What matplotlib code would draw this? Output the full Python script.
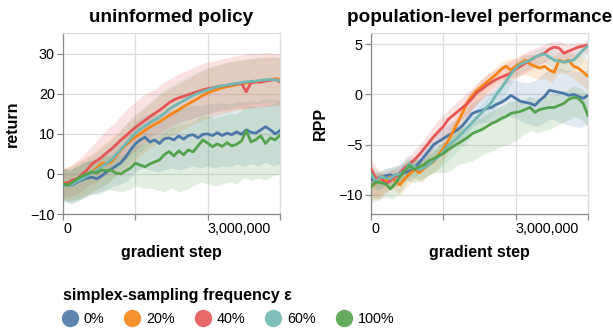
import matplotlib
matplotlib.use("Agg")
import matplotlib.pyplot as plt
from matplotlib.lines import Line2D
import numpy as np

plt.rcParams['font.family'] = ['Liberation Sans', 'DejaVu Sans']

# ---------------- data ----------------
steps = [i * 100000 for i in range(46)]            # mean curves every 100k steps
band_steps = [i * 150000 for i in range(31)]       # band bounds every 150k steps

series = ["0%", "20%", "40%", "60%", "100%"]
colors = ["#4c78a8", "#f58518", "#e45756", "#72b7b2", "#54a24b"]

# ---- uninformed policy: return ----
ret_0 = [-2.5, -2.8, -2.7, -2.0, -1.5, -1.0, -0.8, -1.2, -0.5, 0.5, 1.2, 2.0, 2.8, 4.2, 6.0, 7.5,
         8.5, 9.2, 8.0, 8.5, 7.6, 8.8, 9.0, 8.5, 9.5, 8.7, 9.6, 9.8, 9.0, 9.9, 10.0, 9.6, 10.3, 9.6,
         10.2, 9.8, 10.5, 9.9, 11.0, 10.4, 10.2, 11.0, 11.8, 11.0, 10.0, 10.8]
ret_20 = [-2.6, -2.5, -2.0, -1.5, -1.0, -0.3, 0.5, 1.5, 2.7, 2.5, 3.0, 4.5, 6.0, 7.2, 8.2, 9.2,
          10.0, 10.9, 11.7, 12.4, 13.0, 13.8, 14.6, 15.3, 16.0, 16.8, 17.5, 18.2, 18.9, 19.6, 20.2,
          20.7, 21.1, 21.5, 21.8, 22.0, 22.3, 22.5, 22.7, 22.9, 23.0, 23.2, 23.3, 23.5, 23.8, 23.6]
ret_40 = [-2.3, -2.2, -1.5, -1.2, 0.0, 1.0, 2.5, 3.3, 4.2, 5.2, 6.2, 7.3, 8.5, 9.5, 10.6, 11.6,
          12.5, 13.4, 14.3, 15.1, 15.9, 16.8, 17.8, 18.5, 19.0, 19.4, 19.8, 20.2, 20.6, 21.0, 21.3,
          21.5, 21.8, 22.0, 22.1, 22.3, 22.5, 22.6, 20.5, 22.8, 23.0, 22.9, 23.2, 23.4, 23.6, 23.0]
ret_60 = [-2.8, -2.9, -2.5, -1.8, -1.2, -0.5, 0.3, 1.0, 1.8, 2.6, 3.5, 4.8, 6.2, 7.5, 8.8, 10.2,
          11.2, 12.0, 12.8, 13.5, 14.2, 15.1, 16.2, 16.9, 17.6, 18.3, 19.0, 19.6, 20.2, 20.6, 21.0,
          21.4, 21.8, 22.0, 22.2, 22.4, 22.6, 22.8, 23.0, 23.1, 23.2, 23.4, 23.5, 23.6, 23.5, 23.3]
ret_100 = [-2.5, -2.8, -2.0, -1.2, -0.5, 0.0, 0.5, 0.3, 1.0, 0.8, 1.0, 0.2, 0.0, 0.8, 1.5, 2.7,
           2.2, 1.8, 2.5, 3.0, 3.5, 4.8, 5.6, 4.5, 5.8, 4.8, 6.0, 5.5, 7.0, 8.5, 7.7, 6.8, 7.5, 6.9,
           7.8, 7.0, 7.4, 8.2, 10.8, 8.0, 8.6, 9.5, 7.6, 9.0, 8.5, 9.7]

ret_lo_0 = [-6.5, -7, -6.5, -6, -5, -5, -4, -3, -2.5, -1.5, 0.5, 1.5, 1.0, 0.5, 1.0, 1.5, 1.0, 1.5,
            2.0, 1.5, 2.0, 1.5, 2.0, 1.8, 2.5, 2.0, 2.5, 2.0, 3.0, 2.0, 2.5]
ret_hi_0 = [1.5, 1.0, 2.0, 3.0, 3.5, 4.0, 5.5, 7.0, 8.5, 10.5, 13.0, 14.5, 15.0, 15.0, 15.5, 16.0,
            16.5, 16.8, 17.2, 17.0, 17.5, 17.5, 17.8, 17.5, 18.0, 18.0, 18.3, 18.0, 18.8, 18.5, 18.5]
ret_lo_20 = [-6.5, -6.5, -6, -5.5, -4.5, -3.5, -2.5, -1, 0.5, 2, 3.5, 5, 6.5, 7.5, 8.5, 9.5, 10.5,
             11.5, 12.5, 13.2, 14, 14.5, 15, 15.5, 16, 16.3, 16.5, 16.8, 17, 17.2, 17.5]
ret_hi_20 = [1.5, 2.0, 3.0, 4.0, 5.0, 6.5, 8.0, 9.5, 11.0, 13.0, 14.5, 16.0, 17.5, 19.0, 20.5, 21.5,
             22.5, 23.5, 24.5, 25.5, 26.3, 27.0, 27.5, 28.0, 28.3, 28.6, 28.8, 29.0, 29.2, 29.3, 29.0]
ret_lo_40 = [-6, -5.5, -5, -3.5, -2.5, -1.5, 0, 1.5, 3, 4.5, 6, 7.5, 9, 10, 11, 12, 13, 13.5, 14,
             14.5, 15, 15.5, 15.8, 16, 16.2, 16.3, 16.5, 16.5, 16.8, 17, 17]
ret_hi_40 = [1.0, 2.0, 3.5, 5.0, 7.0, 9.0, 11.0, 12.5, 14.5, 16.5, 18.0, 19.5, 20.5, 21.5, 23.0,
             24.0, 25.0, 25.8, 26.5, 27.3, 28.0, 28.3, 28.8, 29.2, 29.5, 29.8, 30.2, 30.0, 30.4,
             30.1, 30.0]
ret_lo_60 = [-7, -7.2, -6.5, -5.5, -4.5, -3.5, -2.5, -1, 1, 3, 4.5, 6, 7.5, 8.5, 10, 11, 12, 13,
             13.8, 14.5, 15.2, 15.8, 16.2, 16.6, 17, 17.3, 17.5, 17.6, 17.8, 18, 18]
ret_hi_60 = [1.0, 1.5, 2.5, 3.5, 4.8, 6.0, 7.5, 9.0, 11.0, 13.0, 15.0, 16.5, 18.0, 19.5, 21.0, 22.0,
             23.0, 24.0, 25.0, 25.8, 26.5, 27.0, 27.5, 28.0, 28.3, 28.5, 28.8, 29.0, 29.0, 29.2, 29.0]
ret_lo_100 = [-6.5, -7.5, -7, -5.5, -5, -4.5, -4, -4, -4.5, -4, -3, -3.5, -3.5, -4, -4.5, -3.5,
              -4.5, -4, -3, -2, -2.5, -3, -2.5, -2, -2.5, -1, -1.5, -1, -1.5, -0.5, 0]
ret_hi_100 = [1.5, 1.0, 2.0, 3.0, 3.5, 4.0, 4.5, 4.5, 4.5, 5.5, 7.0, 7.5, 8.0, 9.0, 10.5, 11.5,
              12.0, 12.5, 13.0, 14.5, 14.5, 14.0, 14.5, 15.0, 15.0, 16.5, 17.0, 16.5, 17.0, 17.5, 18.0]

# ---- population-level performance: RPP ----
rpp_0 = [-8.4, -8.6, -8.3, -8.1, -8.0, -8.2, -7.9, -7.8, -7.6, -7.3, -6.8, -6.2, -5.6, -5.0, -4.7,
         -4.4, -4.1, -3.8, -3.5, -3.1, -2.5, -1.9, -1.7, -1.6, -1.4, -1.3, -1.0, -0.8, -0.5, -0.1,
         -0.4, -0.7, -0.8, -0.9, -1.1, -0.6, -0.2, 0.4, 0.3, 0.2, 0.1, -0.1, 0.0, -0.2, -0.4, -0.1]
rpp_20 = [-9.2, -8.8, -8.4, -8.6, -8.2, -8.6, -9.0, -8.4, -7.9, -7.5, -7.8, -7.4, -7.0, -6.7, -6.0,
          -5.4, -4.6, -3.7, -2.8, -1.8, -0.8, -0.1, 0.4, 0.8, 1.2, 1.6, 2.0, 2.5, 2.8, 2.4, 2.8,
          3.1, 3.4, 3.0, 2.8, 2.6, 2.8, 2.4, 2.2, 3.4, 3.2, 3.4, 2.8, 2.6, 2.2, 1.8]
rpp_40 = [-7.4, -8.4, -8.2, -8.9, -8.6, -8.2, -7.8, -7.3, -6.9, -6.5, -6.0, -5.4, -4.8, -4.2, -3.7,
          -3.2, -2.5, -2.1, -1.7, -1.3, -0.9, -0.4, 0.2, 0.5, 0.9, 1.2, 1.5, 1.7, 1.9, 2.1, 2.5,
          2.8, 3.1, 3.4, 3.7, 3.9, 4.1, 4.5, 4.7, 4.6, 4.1, 4.3, 4.5, 4.7, 4.8, 4.9]
rpp_60 = [-7.9, -8.7, -8.2, -8.3, -8.4, -8.0, -7.9, -7.6, -6.9, -7.2, -7.5, -7.3, -7.0, -6.6, -6.2,
          -5.7, -5.1, -4.7, -4.3, -3.8, -3.3, -2.8, -2.3, -1.8, -1.3, -0.8, 0.0, 0.6, 1.3, 2.0,
          2.6, 3.0, 3.2, 3.4, 3.7, 3.9, 4.0, 3.7, 3.4, 3.3, 3.2, 3.3, 3.4, 3.9, 4.4, 4.8]
rpp_100 = [-9.2, -8.7, -8.8, -8.9, -9.4, -8.9, -8.2, -7.6, -7.1, -7.5, -7.2, -7.0, -6.6, -6.4,
           -6.1, -5.9, -5.5, -5.2, -4.9, -4.6, -4.3, -3.9, -3.7, -3.5, -3.2, -2.9, -2.7, -2.4,
           -2.2, -1.9, -1.8, -1.7, -1.5, -1.3, -1.8, -1.5, -1.4, -1.3, -1.3, -1.1, -0.9, -0.5,
           -0.3, -0.4, -0.9, -2.1]

rpp_lo_0 = [-9.3, -9.5, -9.0, -8.8, -8.8, -8.6, -8.2, -7.6, -6.6, -6.0, -5.4, -5.2, -4.6, -4.2,
            -3.2, -2.9, -2.8, -2.8, -2.6, -2.2, -2.4, -2.8, -3.0, -3.2, -2.8, -2.4, -2.8, -3.0,
            -3.2, -3.3, -3.0]
rpp_hi_0 = [-7.5, -7.8, -7.4, -7.2, -7.0, -6.8, -6.4, -5.6, -4.6, -4.0, -3.4, -2.8, -2.4, -1.6,
            -0.8, -0.4, 0.0, 0.4, 0.8, 1.4, 1.4, 1.2, 1.2, 1.5, 2.2, 2.6, 2.6, 2.4, 2.4, 2.2, 2.5]
rpp_lo_20 = [-10.5, -10.3, -9.6, -9.4, -10.0, -9.2, -8.4, -8.8, -8.0, -7.6, -6.6, -5.6, -4.2, -2.8,
             -1.4, -0.6, 0.2, 0.8, 1.4, 1.6, 1.8, 2.0, 1.8, 1.5, 1.6, 1.2, 2.2, 2.0, 1.6, 1.0, 0.5]
rpp_hi_20 = [-8.0, -7.8, -7.6, -7.4, -7.8, -7.0, -6.6, -6.8, -6.0, -5.4, -4.3, -3.2, -1.8, -0.5,
             0.5, 1.3, 2.0, 2.5, 3.2, 3.5, 3.6, 4.0, 4.0, 3.8, 3.8, 3.6, 4.2, 4.2, 4.0, 3.8, 3.5]
rpp_lo_40 = [-10.0, -10.5, -9.8, -9.3, -9.0, -8.3, -7.6, -7.0, -6.0, -5.0, -4.3, -3.5, -2.8, -2.2,
             -1.5, -0.7, -0.1, 0.4, 0.8, 1.2, 1.6, 2.0, 2.4, 2.8, 3.2, 3.6, 3.6, 3.0, 3.4, 3.8, 4.2]
rpp_hi_40 = [-6.5, -7.5, -8.0, -7.5, -7.0, -6.3, -5.5, -4.8, -3.8, -2.8, -2.0, -1.3, -0.7, 0.0,
             0.6, 1.3, 1.9, 2.4, 2.8, 3.2, 3.6, 4.0, 4.4, 4.7, 5.0, 5.2, 5.3, 5.0, 5.0, 5.2, 5.3]
rpp_lo_60 = [-8.8, -9.6, -9.2, -9.0, -8.8, -8.0, -8.2, -8.6, -8.0, -7.6, -7.0, -6.4, -5.6, -5.0,
             -4.0, -3.5, -2.6, -1.8, -0.6, 0.6, 1.6, 2.2, 2.6, 3.0, 3.2, 2.6, 2.4, 2.2, 2.4, 3.0, 4.0]
rpp_hi_60 = [-7.0, -7.6, -7.4, -7.2, -7.0, -6.0, -6.2, -6.6, -6.0, -5.4, -4.8, -4.0, -3.4, -2.6,
             -1.9, -1.2, -0.4, 0.4, 1.4, 2.4, 3.2, 3.8, 4.1, 4.5, 4.7, 4.5, 4.2, 4.1, 4.2, 4.8, 5.4]
rpp_lo_100 = [-10.8, -10.5, -10.2, -10.4, -9.8, -8.6, -8.8, -8.4, -8.0, -7.8, -7.8, -7.6, -7.0,
              -6.8, -6.6, -6.2, -5.8, -5.6, -5.2, -5.0, -4.6, -4.0, -3.6, -3.8, -3.6, -3.4, -3.0,
              -2.6, -2.2, -2.4, -3.2]
rpp_hi_100 = [-8.0, -7.8, -8.0, -8.2, -7.4, -6.4, -6.6, -6.2, -5.6, -5.2, -4.8, -4.2, -3.6, -3.2,
              -2.8, -2.4, -2.0, -1.6, -1.2, -0.8, -0.6, -0.5, -0.2, -0.4, -0.2, 0.0, 0.2, 0.4,
              0.8, 0.6, 0.0]

x_ticks = [0, 1500000, 3000000, 4500000]
x_tick_labels = ["0", "", "3,000,000", ""]
ret_ticks = [-10, 0, 10, 20, 30]
rpp_ticks = [-10, -5, 0, 5]

panels = [
    dict(title="uninformed policy", ylabel="return", ylim=(-10, 35.2), yticks=ret_ticks,
         means=[ret_0, ret_20, ret_40, ret_60, ret_100],
         los=[ret_lo_0, ret_lo_20, ret_lo_40, ret_lo_60, ret_lo_100],
         his=[ret_hi_0, ret_hi_20, ret_hi_40, ret_hi_60, ret_hi_100]),
    dict(title="population-level performance", ylabel="RPP", ylim=(-11.9, 6.1), yticks=rpp_ticks,
         means=[rpp_0, rpp_20, rpp_40, rpp_60, rpp_100],
         los=[rpp_lo_0, rpp_lo_20, rpp_lo_40, rpp_lo_60, rpp_lo_100],
         his=[rpp_hi_0, rpp_hi_20, rpp_hi_40, rpp_hi_60, rpp_hi_100]),
]

# ---------------- figure ----------------
W, H = 613, 329
fig = plt.figure(figsize=(W / 100, H / 100), dpi=100)
lefts = [63, 371]
AX_W, AX_TOP, AX_BOT = 217, 33, 214

GRID = "#dddddd"
DOMAIN = "#888888"
TXT = "#000000"

for left, p in zip(lefts, panels):
    ax = fig.add_axes([left / W, (H - AX_BOT) / H, AX_W / W, (AX_BOT - AX_TOP) / H])
    for c, lo, hi in zip(colors, p["los"], p["his"]):
        ax.fill_between(band_steps, lo, hi, color=c, alpha=0.17, lw=0, zorder=2)
    for c, m in zip(colors, p["means"]):
        ax.plot(steps, m, color=c, lw=2.0, zorder=3, solid_joinstyle="round")
    ax.set_xlim(0, 4500000)
    ax.set_ylim(*p["ylim"])
    ax.set_xticks(x_ticks)
    ax.set_xticklabels(x_tick_labels)
    for lab in ax.get_xticklabels():
        lab.set_ha("left")
    ax.set_yticks(p["yticks"])
    ax.set_yticklabels(["\u2212" + str(abs(v)) if v < 0 else str(v) for v in p["yticks"]])
    ax.grid(True, color=GRID, lw=0.9, zorder=0)
    ax.set_axisbelow(True)
    for s in ["top", "right"]:
        ax.spines[s].set_color(GRID)
        ax.spines[s].set_linewidth(0.9)
    for s in ["left", "bottom"]:
        ax.spines[s].set_color(DOMAIN)
        ax.spines[s].set_linewidth(0.9)
    ax.tick_params(axis="both", colors=DOMAIN, length=4, width=0.9, labelsize=10.4,
                   labelcolor=TXT, pad=2)
    ax.set_title(p["title"], fontsize=13.6, fontweight="bold", pad=8)
    ax.set_xlabel("gradient step", fontsize=11.5, fontweight="bold")
    ax.set_ylabel(p["ylabel"], fontsize=11.5, fontweight="bold")
    ax.xaxis.set_label_coords(0.5, -0.17)
    ax.yaxis.set_label_coords(-0.20, 0.5)

handles = [Line2D([], [], ls="none", marker="o", markersize=12.5, markerfacecolor=c,
                  markeredgewidth=0, alpha=0.9) for c in colors]
leg = fig.legend(handles, series, loc="upper left", bbox_to_anchor=(63 / W, 1 - 288 / H),
                 ncol=5, frameon=False, title="simplex-sampling frequency \u03b5",
                 fontsize=10.4, handlelength=0.9, handletextpad=0.55, columnspacing=1.45,
                 borderaxespad=0, borderpad=0, labelspacing=0.6)
leg.get_title().set_fontweight("bold")
leg.get_title().set_fontsize(11.5)
leg._legend_box.align = "left"

fig.savefig("out.png", dpi=100)
